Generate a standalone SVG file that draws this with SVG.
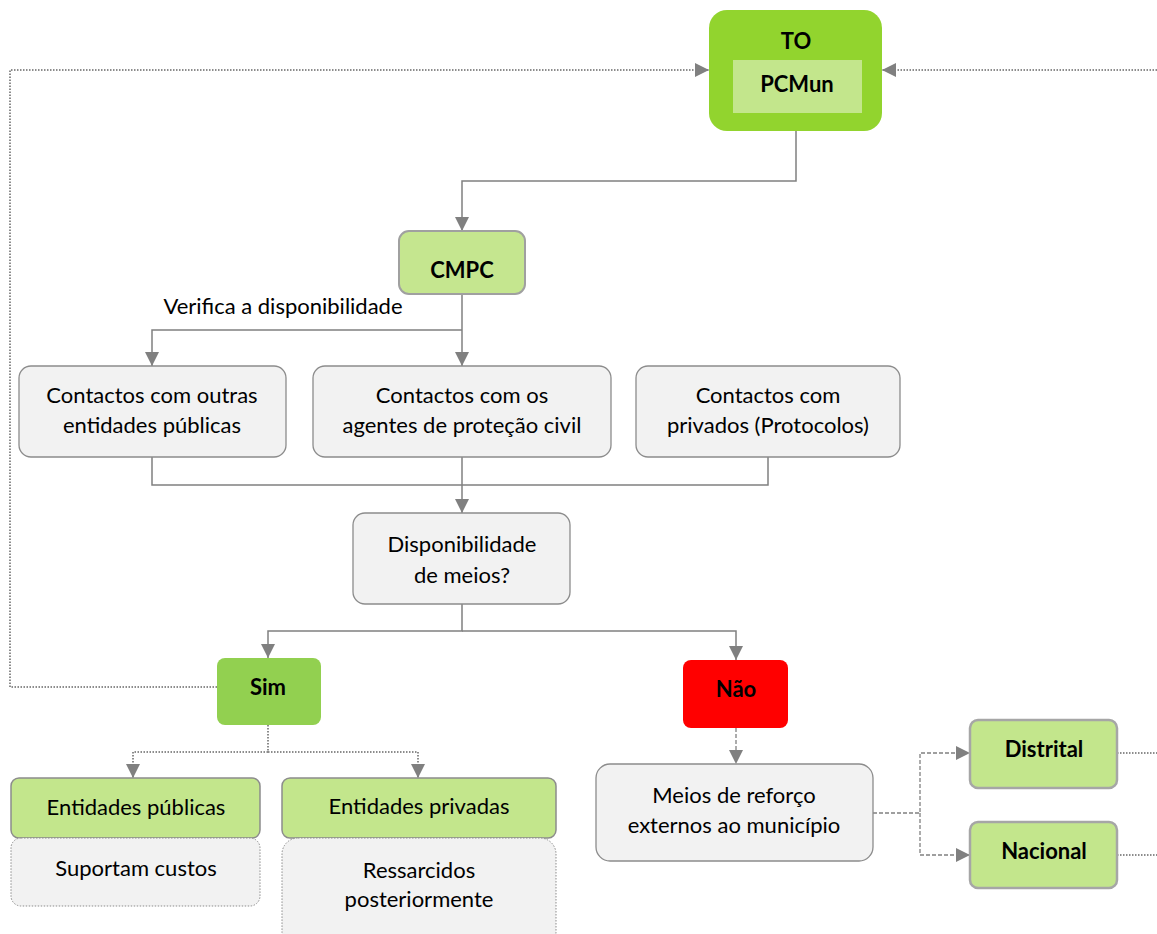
<svg xmlns="http://www.w3.org/2000/svg" width="1157" height="934" viewBox="0 0 1157 934">
<style>
text{font-family:Lato,"Liberation Sans",sans-serif;font-size:22px;fill:#000;text-anchor:middle}
.b{font-weight:bold}
.gray{fill:#f2f2f2;stroke:#8c8c8c;stroke-width:1.3}
.lg{fill:#c3e68c;stroke:#8c8c8c;stroke-width:1.5}
.c{fill:none;stroke:#808080;stroke-width:1.5}
.dot{fill:none;stroke:#8c8c8c;stroke-width:2;stroke-dasharray:1.5 1.5}
.dash{fill:none;stroke:#808080;stroke-width:1.3;stroke-dasharray:4 2}
</style>
<defs>
<marker id="ah" markerWidth="14" markerHeight="14" refX="14" refY="7" orient="auto" markerUnits="userSpaceOnUse">
<path d="M0,0 L14,7 L0,14 Z" fill="#808080"/>
</marker>
</defs>
<rect width="1157" height="934" fill="#fff"/>
<g id="connectors">
<path class="dot" d="M217,687 H10 V70 H709" marker-end="url(#ah)"/>
<path class="dot" d="M1157,70 H882" marker-end="url(#ah)"/>
<path class="c" d="M796,131 V181 H462 V231" marker-end="url(#ah)"/>
<path class="c" d="M462,294 V366" marker-end="url(#ah)"/>
<path class="c" d="M462,330 H152 V366" marker-end="url(#ah)"/>
<path class="c" d="M152,457 V485 H768 V457"/>
<path class="c" d="M462,457 V513" marker-end="url(#ah)"/>
<path class="c" d="M462,604 V631 H268 V658" marker-end="url(#ah)"/>
<path class="c" d="M462,631 H736 V660" marker-end="url(#ah)"/>
<path class="dot" d="M268,725 V752 H133 V778" marker-end="url(#ah)"/>
<path class="dot" d="M268,752 H418 V778" marker-end="url(#ah)"/>
<path class="dash" d="M736,728 V764" marker-end="url(#ah)"/>
<path class="dash" d="M873,813 H920 V753 H970" marker-end="url(#ah)"/>
<path class="dash" d="M920,813 V855 H970" marker-end="url(#ah)"/>
<path class="dot" d="M1117,753 H1157"/>
<path class="dot" d="M1117,855 H1157"/>
<text x="283" y="314">Verifica a disponibilidade</text>
</g>
<g id="to">
<rect x="709" y="10" width="173" height="121" rx="18" fill="#92d42e"/>
<rect x="733" y="60" width="129" height="53" fill="#c3e68c"/>
<text class="b" x="796" y="49">TO</text>
<text class="b" x="797" y="92">PCMun</text>
</g>
<g id="cmpc">
<rect x="399" y="231" width="126" height="63" rx="10" fill="#c5e68f" stroke="#a0a0a0" stroke-width="2"/>
<text class="b" x="462" y="278">CMPC</text>
</g>
<g id="box1">
<rect class="gray" x="19" y="366" width="267" height="91" rx="12"/>
<text x="152" y="403">Contactos com outras</text>
<text x="152" y="433">entidades públicas</text>
</g>
<g id="box2">
<rect class="gray" x="313" y="366" width="298" height="91" rx="12"/>
<text x="462" y="403">Contactos com os</text>
<text x="462" y="433">agentes de proteção civil</text>
</g>
<g id="box3">
<rect class="gray" x="636" y="366" width="264" height="91" rx="12"/>
<text x="768" y="403">Contactos com</text>
<text x="768" y="433">privados (Protocolos)</text>
</g>
<g id="disp">
<rect class="gray" x="353" y="513" width="217" height="91" rx="12"/>
<text x="462" y="552">Disponibilidade</text>
<text x="462" y="583">de meios?</text>
</g>
<g id="sim">
<rect x="217" y="658" width="104" height="67" rx="8" fill="#92d050"/>
<text class="b" x="268" y="695">Sim</text>
</g>
<g id="nao">
<rect x="683" y="660" width="105" height="68" rx="8" fill="#ff0000"/>
<text class="b" x="736" y="697">Não</text>
</g>
<g id="entpub">
<rect class="lg" x="11" y="778" width="249" height="60" rx="8"/>
<text x="136" y="815">Entidades públicas</text>
</g>
<g id="suportam">
<rect x="11" y="838" width="249" height="68" rx="10" fill="#f2f2f2" stroke="#8c8c8c" stroke-width="1" stroke-dasharray="1.5 1.5"/>
<text x="136" y="876">Suportam custos</text>
</g>
<g id="entpriv">
<rect class="lg" x="282" y="778" width="274" height="60" rx="8"/>
<text x="419" y="814">Entidades privadas</text>
</g>
<g id="ressarcidos">
<rect x="282" y="838" width="274" height="110" rx="16" fill="#f2f2f2" stroke="#8c8c8c" stroke-width="1" stroke-dasharray="1.5 1.5"/>
<text x="419" y="878">Ressarcidos</text>
<text x="419" y="907">posteriormente</text>
</g>
<g id="meios">
<rect class="gray" x="596" y="764" width="277" height="97" rx="14"/>
<text x="734" y="803">Meios de reforço</text>
<text x="734" y="833">externos ao município</text>
</g>
<g id="distrital">
<rect x="970" y="720" width="147" height="68" rx="8" fill="#c3e68c" stroke="#a6a6a6" stroke-width="2.5"/>
<text class="b" x="1044" y="757">Distrital</text>
</g>
<g id="nacional">
<rect x="970" y="822" width="147" height="66" rx="8" fill="#c3e68c" stroke="#a6a6a6" stroke-width="2.5"/>
<text class="b" x="1044" y="859">Nacional</text>
</g>
</svg>
